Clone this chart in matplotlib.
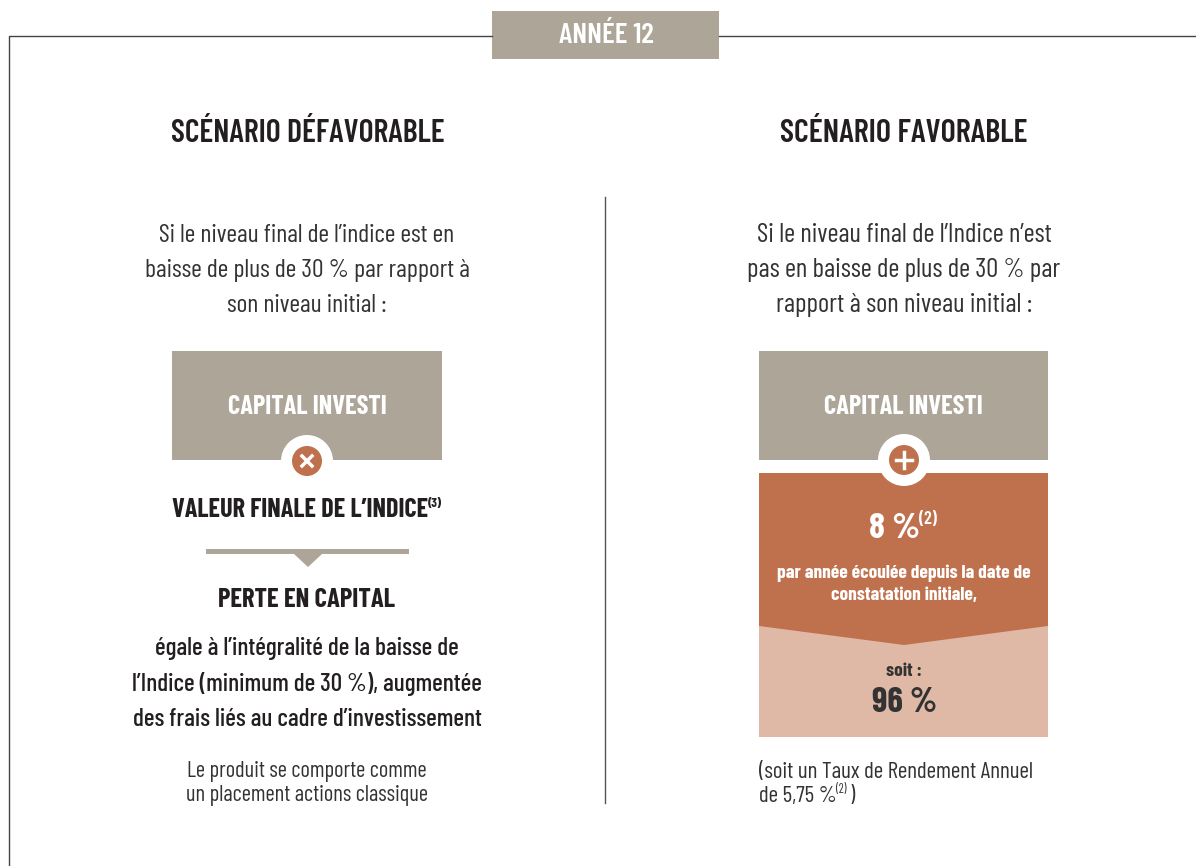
import matplotlib.pyplot as plt
from matplotlib import font_manager
from matplotlib.patches import Rectangle, Polygon, Circle

W, H = 1196, 866
taupe = '#aca598'
rust = '#bf704d'
pale = '#e0b9a6'
ink = '#231f20'

# condensed face if this machine has it, otherwise Roboto at smaller sizes
names = set(f.name for f in font_manager.fontManager.ttflist)
cond = 'Barlow Condensed' if 'Barlow Condensed' in names else 'Roboto'
scale = 1.0 if cond == 'Barlow Condensed' else 0.85

year_label = 'ANNÉE 12'
left_title = 'SCÉNARIO DÉFAVORABLE'
right_title = 'SCÉNARIO FAVORABLE'
left_intro = ['Si le niveau final de l’indice est en', 'baisse de plus de 30 % par rapport à', 'son niveau initial :']
right_intro = ['Si le niveau final de l’Indice n’est', 'pas en baisse de plus de 30 % par', 'rapport à son niveau initial :']
left_body = ['égale à l’intégralité de la baisse de', 'l’Indice (minimum de 30 %), augmentée', 'des frais liés au cadre d’investissement']
left_note = ['Le produit se comporte comme', 'un placement actions classique']
right_sub = ['par année écoulée depuis la date de', 'constatation initiale,']

fig = plt.figure(figsize=(W / 100, H / 100), dpi=100)
ax = fig.add_axes([0, 0, 1, 1])
ax.set_xlim(0, W)
ax.set_ylim(H, 0)
ax.axis('off')


def label(x, y, s, size, color=ink, weight='normal', ha='center'):
    return ax.text(x, y, s, fontsize=size * scale, color=color, fontweight=weight, ha=ha, va='center', family=cond)


# frame
ax.plot([9, 9, 492], [866, 35.5, 35.5], color='#444444', lw=1)
ax.plot([719, 1196], [35.5, 35.5], color='#444444', lw=1)
ax.add_patch(Rectangle((492, 11), 227, 48, color=taupe, lw=0))
label(606, 35, year_label, 21, 'white', 600)

label(308, 134, left_title, 22.9, weight=600)
label(904, 134, right_title, 23.2, weight=600)
ax.plot([605, 605], [197, 803], color='#555555', lw=1)

for i, s in enumerate(left_intro):
    label(307, 235 + i * 35, s, 18.6, '#333333')
for i, s in enumerate(right_intro):
    label(904, 235 + i * 35, s, 19.3, '#333333')

# left column
ax.add_patch(Rectangle((172, 351), 270, 109, color=taupe, lw=0))
label(307, 407, 'CAPITAL INVESTI', 19, 'white', 'bold')
ax.add_patch(Circle((307, 461), 26, color='white', lw=0, zorder=3))
ax.add_patch(Circle((307, 461), 15, color=rust, lw=0, zorder=4))
ax.plot([302, 312], [456, 466], color='white', lw=2.5, zorder=5)
ax.plot([302, 312], [466, 456], color='white', lw=2.5, zorder=5)
label(172, 510, 'VALEUR FINALE DE L’INDICE', 18.9, weight='bold', ha='left')
label(428, 503, '(3)', 9.5, weight='bold', ha='left')
ax.add_patch(Rectangle((206, 549), 203, 5, color=taupe, lw=0))
ax.add_patch(Polygon([[294, 554], [322, 554], [308, 567]], color=taupe, lw=0))
label(307, 600, 'PERTE EN CAPITAL', 19.2, weight='bold')
for i, s in enumerate(left_body):
    label(307, 649 + i * 35, s, 18.2, weight=500)
for i, s in enumerate(left_note):
    label(307, 772 + i * 24, s, 16.2, '#333333')

# right column
ax.add_patch(Rectangle((759, 351), 289, 109, color=taupe, lw=0))
label(903, 407, 'CAPITAL INVESTI', 19, 'white', 'bold')
ax.add_patch(Polygon([[759, 473], [1048, 473], [1048, 737], [759, 737]], color=pale, lw=0))
ax.add_patch(Polygon([[759, 473], [1048, 473], [1048, 626], [904, 645], [759, 626]], color=rust, lw=0))
ax.add_patch(Circle((904, 460), 26, color='white', lw=0, zorder=3))
ax.add_patch(Circle((904, 460), 15, color=rust, lw=0, zorder=4))
ax.plot([896, 912], [460, 460], color='white', lw=2.5, zorder=5)
ax.plot([904, 904], [452, 468], color='white', lw=2.5, zorder=5)
label(869, 529, '8 %', 26, 'white', 'bold', ha='left')
label(919, 519, '(2)', 13, 'white', 600, ha='left')
for i, s in enumerate(right_sub):
    label(904, 573 + i * 23, s, 14, 'white', 'bold')
label(904, 672, 'soit :', 14, '#333333', 'bold')
label(904, 703, '96 %', 25.5, '#333333', 'bold')
label(759, 772, '(soit un Taux de Rendement Annuel', 16.6, '#333333', ha='left')
label(759, 796, 'de 5,75 %', 16.6, '#333333', ha='left')
label(836, 789, '(2)', 9, '#333333', ha='left')
label(849, 796, ')', 16.6, '#333333', ha='left')

fig.savefig('out.png', dpi=100)
